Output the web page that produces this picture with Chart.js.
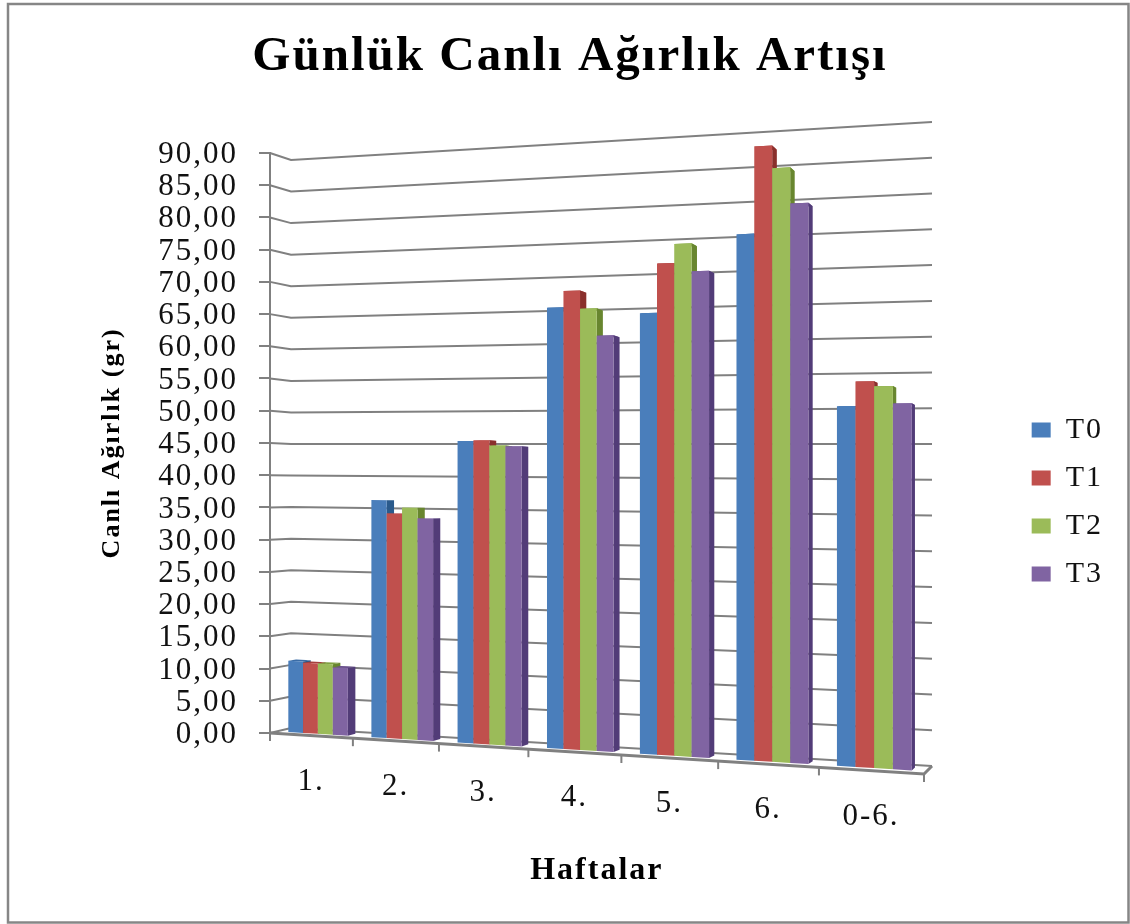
<!DOCTYPE html>
<html>
<head>
<meta charset="utf-8">
<style>html,body{margin:0;background:#fff}</style>
<script src="https://cdn.jsdelivr.net/npm/chart.js@4"></script>
</head>
<body>
<canvas id="grafica" width="1130" height="924"></canvas>
<script>
const haftalar = ['1.', '2.', '3.', '4.', '5.', '6.', '0-6.'];
const t0 = [11.1, 36.3, 45.3, 64.9, 63.7, 74.5, 50.0];
const t1 = [10.9, 34.3, 45.4, 67.3, 70.8, 86.8, 53.4];
const t2 = [10.9, 35.2, 44.6, 64.6, 73.5, 83.6, 52.7];
const t3 = [10.4, 33.6, 44.5, 60.6, 69.5, 78.5, 50.3];
const renkler = ['#4a7ebb', '#c0504d', '#9bbb59', '#8064a2'];
const yanRenkler = ['#2a5a8c', '#8a2f2c', '#68862f', '#523c78'];
const ustRenkler = ['#3a6ca6', '#a53f3c', '#7fa040', '#6a4f90'];

// perspektif: on ve arka duzlem (sol/sag kenar)
const on = {xL: 270, xR: 924, yL: 733, yR: 774, hL: 580, hR: 666};
const arka = {xL: 291, xR: 932, yL: 728, yR: 766, hL: 568, hR: 644};
const onYuz = 0.33, arkaYuz = 0.7;

function duzlem(p, u, t) {
    const k = p.hR / p.hL;
    const w = 1 + (1 / k - 1) * u;
    const g = u / (k * w);
    return [p.xL + (p.xR - p.xL) * g, p.yL + (p.yR - p.yL) * g - t * p.hL / w];
}
function izdus(u, t, d) {
    const a = duzlem(on, u, t), b = duzlem(arka, u, t);
    return [a[0] + (b[0] - a[0]) * d, a[1] + (b[1] - a[1]) * d];
}
function cizgi(ctx, pts) {
    ctx.beginPath();
    pts.forEach((p, i) => i ? ctx.lineTo(p[0], p[1]) : ctx.moveTo(p[0], p[1]));
}
function yuz(ctx, pts, renk) {
    cizgi(ctx, pts);
    ctx.closePath();
    ctx.fillStyle = renk;
    ctx.fill();
}

const perspektif = {
    id: 'perspektif',
    afterLayout(chart) {
        chart.legend.top += 40;
        chart.legend.bottom += 40;
    },
    beforeDraw(chart) {
        const ctx = chart.ctx;
        ctx.letterSpacing = '2px';
        ctx.save();
        ctx.strokeStyle = '#868686';
        ctx.lineWidth = 2.5;
        ctx.strokeRect(8, 4, 1120.5, 918.5);
        ctx.restore();
    },
    beforeDatasetsDraw(chart) {
        const ctx = chart.ctx, ca = chart.chartArea, y = chart.scales.y, x = chart.scales.x;
        ctx.save();
        ctx.strokeStyle = '#808080';
        ctx.lineWidth = 2;
        y.ticks.forEach(tk => {
            const t = (y.bottom - y.getPixelForValue(tk.value)) / (y.bottom - y.top);
            cizgi(ctx, [izdus(0, t, 0), izdus(0, t, 1), izdus(1, t, 1)]);
            ctx.stroke();
        });
        cizgi(ctx, [izdus(0, 0, 0), izdus(1, 0, 0), izdus(1, 0, 1)]);
        ctx.lineWidth = 3;
        ctx.stroke();
        ctx.lineWidth = 2;
        for (let i = 0; i <= haftalar.length; i++) {
            const p = izdus(i / haftalar.length, 0, 0);
            cizgi(ctx, [p, [p[0], p[1] + 8]]);
            ctx.stroke();
        }
        ctx.font = '31px "Liberation Serif"';
        ctx.fillStyle = '#111';
        ctx.textAlign = 'center';
        ctx.textBaseline = 'middle';
        haftalar.forEach((h, i) => {
            const u = (x.getPixelForTick(i) - x.left) / (x.right - x.left);
            const p = izdus(u, 0, 0);
            ctx.fillText(h, p[0], p[1] + 46);
        });
        // T0 -> T3 sirasiyla, sonraki cubuk oncekinin yan yuzunu ortsun
        chart.data.datasets.forEach((ds, i) => {
            chart.getDatasetMeta(i).data.forEach(b => {
                const u0 = (b.x - b.width / 2 - ca.left) / (ca.right - ca.left);
                const u1 = (b.x + b.width / 2 - ca.left) / (ca.right - ca.left);
                const t = (ca.bottom - b.y) / (ca.bottom - ca.top);
                yuz(ctx, [izdus(u0, t, onYuz), izdus(u1, t, onYuz), izdus(u1, t, arkaYuz), izdus(u0, t, arkaYuz)], ustRenkler[i]);
                yuz(ctx, [izdus(u1, 0, onYuz), izdus(u1, t, onYuz), izdus(u1, t, arkaYuz), izdus(u1, 0, arkaYuz)], yanRenkler[i]);
                yuz(ctx, [izdus(u0, 0, onYuz), izdus(u1, 0, onYuz), izdus(u1, t, onYuz), izdus(u0, t, onYuz)], renkler[i]);
            });
        });
        ctx.restore();
    },
    beforeDatasetDraw() {
        return false;
    }
};

const data = {
    labels: haftalar,
    datasets: [
        {label: 'T0', data: t0, backgroundColor: renkler[0]},
        {label: 'T1', data: t1, backgroundColor: renkler[1]},
        {label: 'T2', data: t2, backgroundColor: renkler[2]},
        {label: 'T3', data: t3, backgroundColor: renkler[3]}
    ]
};

const config = {
    type: 'bar',
    data: data,
    plugins: [perspektif],
    options: {
        responsive: false,
        animation: false,
        categoryPercentage: 0.72,
        barPercentage: 1,
        layout: {padding: {left: 31, right: 21, top: 0, bottom: 0}},
        plugins: {
            title: {
                display: true,
                text: 'Günlük Canlı Ağırlık Artışı',
                color: '#000',
                font: {family: '"Liberation Serif"', size: 49, weight: 'bold', lineHeight: 1.2},
                padding: {top: 28, bottom: 66}
            },
            legend: {
                position: 'right',
                labels: {
                    boxWidth: 19,
                    boxHeight: 15,
                    padding: 18,
                    color: '#111',
                    font: {family: '"Liberation Serif"', size: 30}
                }
            },
            tooltip: {enabled: false}
        },
        scales: {
            x: {
                grid: {display: false},
                border: {display: false},
                ticks: {display: false},
                afterFit: s => { s.height = 191; },
                title: {
                    display: true,
                    text: 'Haftalar',
                    color: '#000',
                    font: {family: '"Liberation Serif"', size: 32, weight: 'bold'},
                    padding: {top: 120, bottom: 34}
                }
            },
            y: {
                min: 0,
                max: 90,
                afterFit: s => { s.width = 239; },
                grid: {drawOnChartArea: false, color: '#808080', lineWidth: 2, tickLength: 11},
                border: {color: '#808080', width: 2},
                ticks: {
                    stepSize: 5,
                    autoSkip: false,
                    padding: 21,
                    labelOffset: 2,
                    color: '#111',
                    font: {family: '"Liberation Serif"', size: 31},
                    callback: v => v.toFixed(2).replace('.', ',')
                },
                title: {
                    display: true,
                    text: 'Canlı Ağırlık (gr)',
                    color: '#000',
                    font: {family: '"Liberation Serif"', size: 26, weight: 'bold'},
                    padding: {top: 66, bottom: 0}
                }
            },
            bosluk: {
                position: 'right',
                grid: {display: false},
                border: {display: false},
                ticks: {display: false},
                afterFit: s => { s.width = 90; }
            }
        }
    }
};

new Chart(document.querySelector('#grafica'), config);
</script>
</body>
</html>
